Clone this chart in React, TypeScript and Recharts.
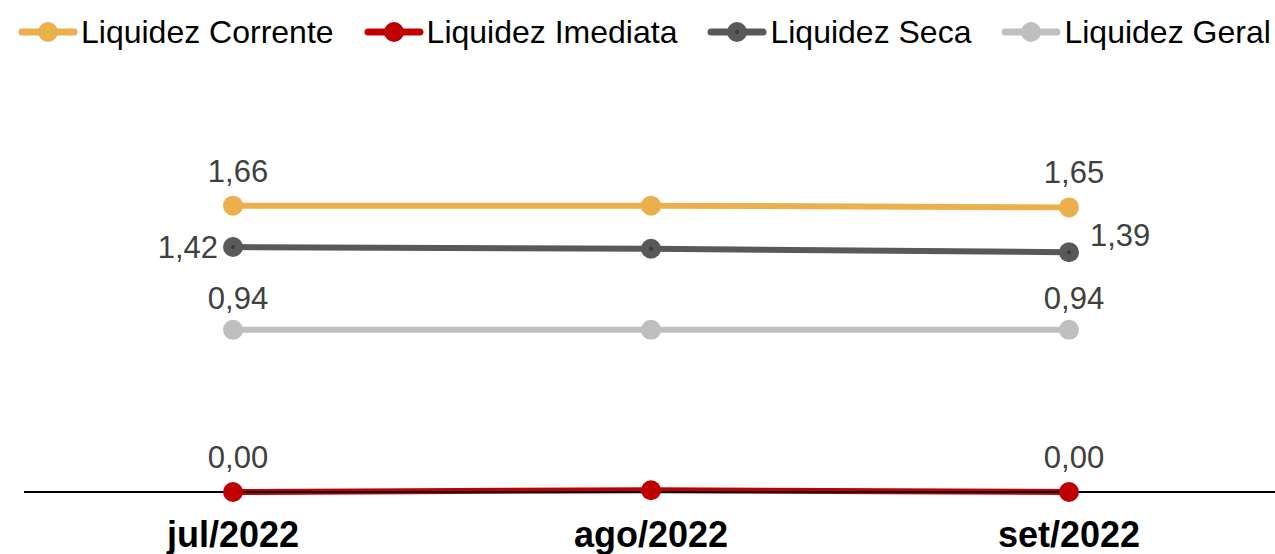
import React from 'react';
import { LineChart, Line, XAxis, YAxis, Legend, LabelList } from 'recharts';

const categories = ['jul/2022', 'ago/2022', 'set/2022'];
const liquidezCorrente = [1.66, 1.66, 1.65];
const liquidezImediata = [0.0, 0.01, 0.0];
const liquidezSeca = [1.42, 1.41, 1.39];
const liquidezGeral = [0.94, 0.94, 0.94];

const data = categories.map((c, i) => ({
  name: c,
  corrente: liquidezCorrente[i],
  imediata: liquidezImediata[i],
  seca: liquidezSeca[i],
  geral: liquidezGeral[i],
}));

const FONT = '"Liberation Sans", Arial, sans-serif';
const LAST = categories.length - 1;

const series = [
  { key: 'corrente', name: 'Liquidez Corrente', color: '#EBB04B', inner: false },
  { key: 'imediata', name: 'Liquidez Imediata', color: '#C00000', inner: false },
  { key: 'seca', name: 'Liquidez Seca', color: '#595959', inner: true },
  { key: 'geral', name: 'Liquidez Geral', color: '#BFBFBF', inner: false },
];

const fmt = (v: number) => Number(v).toFixed(2).replace('.', ',');

const makeLabel = (key: string) => (props: any) => {
  const { x, y, value, index } = props;
  if (index !== 0 && index !== LAST) return null;
  let tx = x + 5;
  let ty = y - 24;
  let anchor: any = 'middle';
  if (key === 'geral') ty = y - 21;
  if (key === 'seca') {
    if (index === 0) {
      tx = x - 15;
      ty = y + 11;
      anchor = 'end';
    } else {
      tx = x + 21;
      ty = y - 6;
      anchor = 'start';
    }
  }
  return (
    <text x={tx} y={ty} textAnchor={anchor} fill="#404040" fontSize={31} fontFamily={FONT}>
      {fmt(value)}
    </text>
  );
};

const makeDot = (color: string, inner: boolean) => (props: any) => {
  const { cx, cy, index } = props;
  return (
    <g key={`d-${color}-${index}`}>
      <circle cx={cx} cy={cy} r={10} fill={color} />
      {inner && <circle cx={cx} cy={cy} r={2} fill="#3a3a3a" />}
    </g>
  );
};

const Tick = (props: any) => {
  const { x, y, payload } = props;
  return (
    <text x={x} y={y + 55} textAnchor="middle" fill="#000" fontSize={36} fontWeight="bold" fontFamily={FONT}>
      {payload.value}
    </text>
  );
};

const LegendContent = () => (
  <div
    style={{
      height: 64,
      display: 'flex',
      alignItems: 'center',
      paddingLeft: 18,
      fontFamily: FONT,
      fontSize: 32,
      color: '#000',
      whiteSpace: 'nowrap',
    }}
  >
    {series.map((s, i) => (
      <div key={s.key} style={{ display: 'flex', alignItems: 'center', marginRight: i < series.length - 1 ? 30 : 0 }}>
        <svg width={60} height={24} style={{ display: 'block' }}>
          <line x1={4} y1={12} x2={56} y2={12} stroke={s.color} strokeWidth={7} strokeLinecap="round" />
          <circle cx={30} cy={12} r={10} fill={s.color} />
          {s.inner && <circle cx={30} cy={12} r={2} fill="#3a3a3a" />}
        </svg>
        <span style={{ marginLeft: 3, lineHeight: '64px' }}>{s.name}</span>
      </div>
    ))}
  </div>
);

export default function App() {
  return (
    <div style={{ position: 'absolute', left: 0, top: 0, background: '#fff' }}>
      <LineChart width={1275} height={554} data={data} margin={{ top: 83, right: -3, bottom: 12, left: 24 }}>
        <Legend
          verticalAlign="top"
          align="left"
          content={<LegendContent />}
          wrapperStyle={{ top: 0, left: 0, width: 1275, height: 64 }}
        />
        <XAxis
          dataKey="name"
          height={50}
          tickLine={false}
          tickSize={0}
          tickMargin={0}
          padding={{ left: 209, right: 209 }}
          axisLine={{ stroke: '#000', strokeWidth: 2 }}
          tick={<Tick />}
          interval={0}
        />
        <YAxis hide domain={[0, 2]} />
        {series.map((s) => (
          <Line
            key={s.key}
            type="linear"
            dataKey={s.key}
            name={s.name}
            stroke={s.color}
            strokeWidth={6}
            dot={makeDot(s.color, s.inner)}
            activeDot={false}
            isAnimationActive={false}
          >
            <LabelList dataKey={s.key} content={makeLabel(s.key)} />
          </Line>
        ))}
      </LineChart>
    </div>
  );
}
